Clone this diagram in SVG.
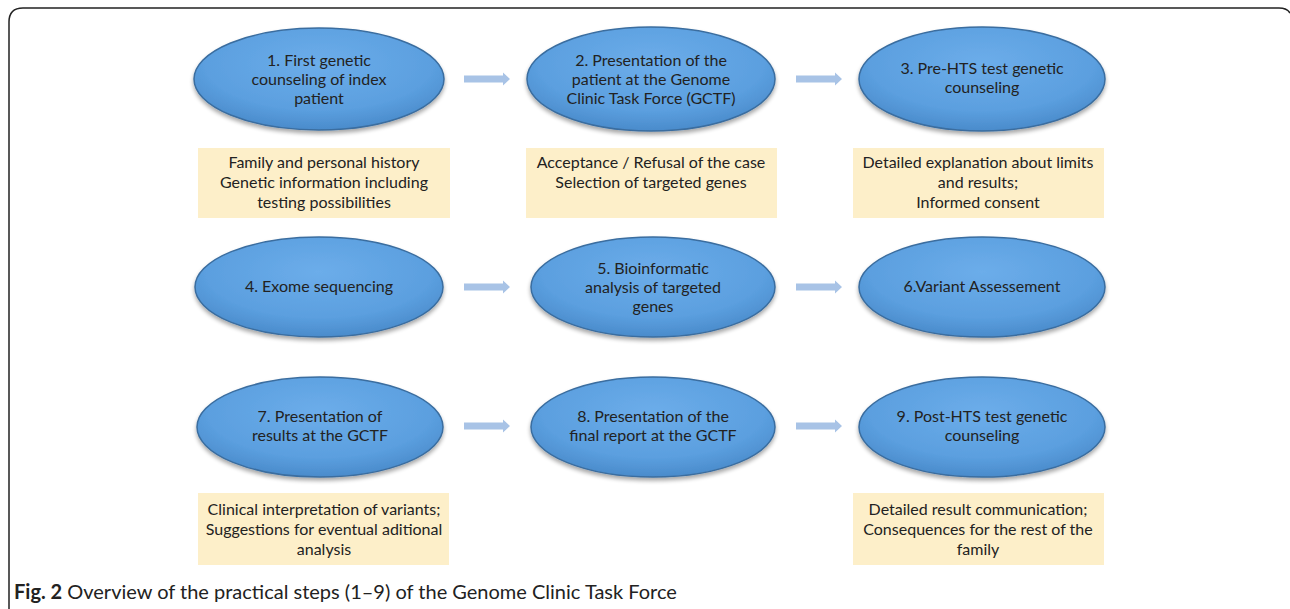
<svg xmlns="http://www.w3.org/2000/svg" width="1290" height="609" viewBox="0 0 1290 609">
<defs>
<radialGradient id="eg" cx="50%" cy="35%" r="65%">
<stop offset="0" stop-color="#6cadea"/>
<stop offset="0.7" stop-color="#5b9fdf"/>
<stop offset="1" stop-color="#4a8bcb"/>
</radialGradient>
<filter id="sh" x="-10%" y="-10%" width="120%" height="130%">
<feGaussianBlur in="SourceAlpha" stdDeviation="2"/>
<feOffset dy="3"/>
<feComponentTransfer><feFuncA type="linear" slope="0.35"/></feComponentTransfer>
<feMerge><feMergeNode/><feMergeNode in="SourceGraphic"/></feMerge>
</filter>
<polygon id="arr" points="0,-3.5 39,-3.5 39,-6.5 46,0 39,6.5 39,3.5 0,3.5"/>
</defs>
<style>
.el{fill:url(#eg);stroke:#3a6d9f;stroke-width:1.5;filter:url(#sh)}
.bx{fill:#fdefc9}
.t{font-family:Lato,"Open Sans",sans-serif;font-size:16px;fill:#222;text-anchor:middle}
.a{fill:#a8c3e6}
.cap{font-family:Lato,"Open Sans",sans-serif;font-size:20px;fill:#222}
</style>
<rect width="1290" height="609" fill="#fff"/>
<path d="M9 609 L9 22 Q9 8 23 8 L1279 8 Q1287 8 1290 13" fill="none" stroke="#222" stroke-width="1.5"/>

<g id="connectors">
<use href="#arr" class="a" x="464" y="79"/>
<use href="#arr" class="a" x="796" y="79"/>
<use href="#arr" class="a" x="464" y="287"/>
<use href="#arr" class="a" x="796" y="287"/>
<use href="#arr" class="a" x="464" y="426"/>
<use href="#arr" class="a" x="796" y="426"/>
</g>

<g id="n1"><ellipse class="el" cx="319" cy="79" rx="125" ry="51"/>
<text class="t" x="319" y="66">1. First genetic</text><text class="t" x="319" y="85">counseling of index</text><text class="t" x="319" y="104">patient</text></g>
<g id="n2"><ellipse class="el" cx="651" cy="79" rx="124" ry="52"/>
<text class="t" x="651" y="66">2. Presentation of the</text><text class="t" x="651" y="85">patient at the Genome</text><text class="t" x="651" y="104">Clinic Task Force (GCTF)</text></g>
<g id="n3"><ellipse class="el" cx="982" cy="79" rx="123" ry="52"/>
<text class="t" x="982" y="74">3. Pre-HTS test genetic</text><text class="t" x="982" y="93">counseling</text></g>

<g id="b1"><rect class="bx" x="198" y="148" width="252" height="70"/>
<text class="t" x="324" y="168">Family and personal history</text><text class="t" x="324" y="188">Genetic information including</text><text class="t" x="324" y="208">testing possibilities</text></g>
<g id="b2"><rect class="bx" x="526" y="148" width="251" height="70"/>
<text class="t" x="651" y="168">Acceptance / Refusal of the case</text><text class="t" x="651" y="188">Selection of targeted genes</text></g>
<g id="b3"><rect class="bx" x="853" y="148" width="251" height="70"/>
<text class="t" x="978" y="168">Detailed explanation about limits</text><text class="t" x="978" y="188">and results;</text><text class="t" x="978" y="208">Informed consent</text></g>

<g id="n4"><ellipse class="el" cx="319" cy="287" rx="124" ry="50"/>
<text class="t" x="319" y="292">4. Exome sequencing</text></g>
<g id="n5"><ellipse class="el" cx="653" cy="287" rx="122" ry="50"/>
<text class="t" x="653" y="274">5. Bioinformatic</text><text class="t" x="653" y="293">analysis of targeted</text><text class="t" x="653" y="312">genes</text></g>
<g id="n6"><ellipse class="el" cx="982" cy="287" rx="123" ry="50"/>
<text class="t" x="982" y="292">6.Variant Assessement</text></g>

<g id="n7"><ellipse class="el" cx="320" cy="427" rx="123" ry="50"/>
<text class="t" x="320" y="422">7. Presentation of</text><text class="t" x="320" y="441">results at the GCTF</text></g>
<g id="n8"><ellipse class="el" cx="653" cy="427" rx="122" ry="50"/>
<text class="t" x="653" y="422">8. Presentation of the</text><text class="t" x="653" y="441">final report at the GCTF</text></g>
<g id="n9"><ellipse class="el" cx="982" cy="427" rx="123" ry="50"/>
<text class="t" x="982" y="422">9. Post-HTS test genetic</text><text class="t" x="982" y="441">counseling</text></g>

<g id="b7"><rect class="bx" x="198" y="493" width="251" height="72"/>
<text class="t" x="324" y="515">Clinical interpretation of variants;</text><text class="t" x="324" y="535">Suggestions for eventual aditional</text><text class="t" x="324" y="555">analysis</text></g>
<g id="b9"><rect class="bx" x="853" y="493" width="251" height="72"/>
<text class="t" x="978" y="515">Detailed result communication;</text><text class="t" x="978" y="535">Consequences for the rest of the</text><text class="t" x="978" y="555">family</text></g>

<text class="cap" x="14" y="599"><tspan font-weight="bold">Fig. 2</tspan> Overview of the practical steps (1–9) of the Genome Clinic Task Force</text>
</svg>
